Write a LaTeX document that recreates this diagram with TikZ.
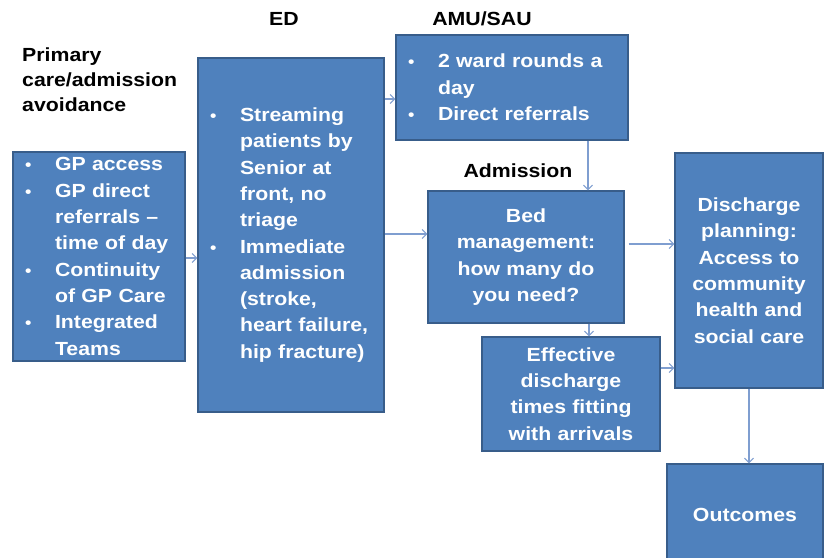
\documentclass[tikz,border=0pt]{standalone}
\usepackage{fontspec}
\setmainfont{Liberation Sans}[FakeStretch=1.12]
\usetikzlibrary{arrows.meta}
\definecolor{boxfill}{HTML}{4F81BD}
\definecolor{boxline}{HTML}{385D8A}
\definecolor{arrowc}{HTML}{7F9ED0}
\newcommand{\bi}[1]{\makebox[30pt][l]{\scalebox{0.85}{\textbullet}}#1}
\newcommand{\ci}[1]{\hspace*{30pt}#1}
\tikzset{
  box/.style={draw=boxline, line width=1.2pt, fill=boxfill, text=white,
    font=\fontsize{19}{26.3}\selectfont\bfseries, inner ysep=0pt},
  lbox/.style={box, align=left, inner xsep=12pt},
  cbox/.style={box, align=center, inner xsep=4pt},
  arr/.style={draw=arrowc, line width=1.1pt, -{Straight Barb[length=4.5pt,width=9pt]}},
  hdr/.style={font=\fontsize{19}{25}\selectfont\bfseries, text=black, inner sep=0pt}
}
\begin{document}
\begin{tikzpicture}[x=1pt,y=-1pt]
\useasboundingbox (0,0) rectangle (824,557);
\begin{scope}
\clip (0,0) rectangle (824,557);
% boxes
\node[lbox, minimum width=172pt, minimum height=209pt, text width=148pt] (prim) at (99,256.5)
  {\bi{GP access}\\ \bi{GP direct}\\ \ci{referrals --}\\ \ci{time of day}\\ \bi{Continuity}\\ \ci{of GP Care}\\ \bi{Integrated}\\ \ci{Teams}};
\node[lbox, minimum width=186pt, minimum height=354pt, text width=162pt] (ed) at (291,235)
  {\bi{Streaming}\\ \ci{patients by}\\ \ci{Senior at}\\ \ci{front, no}\\ \ci{triage}\\ \bi{Immediate}\\ \ci{admission}\\ \ci{(stroke,}\\ \ci{heart failure,}\\ \ci{hip fracture)}};
\node[lbox, minimum width=232pt, minimum height=105pt, text width=208pt] (amu) at (512,87.5)
  {\bi{2 ward rounds a}\\ \ci{day}\\ \bi{Direct referrals}};
\node[cbox, minimum width=196pt, minimum height=132pt, text width=188pt] (bed) at (526,257)
  {Bed\\ management:\\ how many do\\ you need?};
\node[cbox, minimum width=178pt, minimum height=114pt, text width=170pt] (eff) at (571,394)
  {Effective\\ discharge\\ times fitting\\ with arrivals};
\node[cbox, minimum width=148pt, minimum height=235pt, text width=140pt] (dis) at (749,270.5)
  {Discharge\\ planning:\\ Access to\\ community\\ health and\\ social care};
\node[cbox, minimum width=156pt, minimum height=102pt, text width=148pt] (out) at (745,515)
  {Outcomes};
\end{scope}
% headers
\node[hdr] (hed) at (284,19) {ED};
\node[hdr] (hamu) at (482,19) {AMU/SAU};
\node[hdr, align=left, anchor=west] (hprim) at (22,80) {Primary\\ care/admission\\ avoidance};
\node[hdr] (hadm) at (518,171) {Admission};
% connectors
\draw[arr] (prim.east |- 0,258) -- (ed.west |- 0,258);
\draw[arr] (ed.east |- 0,99) -- (amu.west |- 0,99);
\draw[arr] (ed.east |- 0,234) -- (bed.west |- 0,234);
\draw[arr] (amu.south -| 588,0) -- (bed.north -| 588,0);
\draw[arr, shorten <=4pt] (bed.east |- 0,244) -- (dis.west |- 0,244);
\draw[arr] (bed.south -| 589,0) -- (eff.north -| 589,0);
\draw[arr] (eff.east |- 0,368) -- (dis.west |- 0,368);
\draw[arr] (dis.south -| 749,0) -- (out.north -| 749,0);
\end{tikzpicture}
\end{document}
